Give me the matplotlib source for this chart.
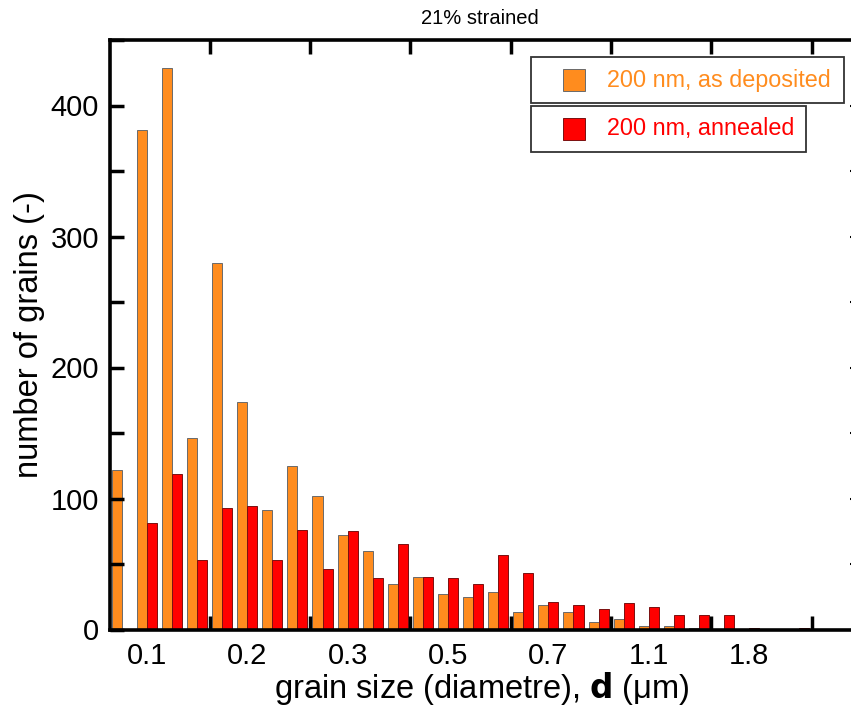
import numpy as np
import matplotlib
matplotlib.use("Agg")
import matplotlib.pyplot as plt
from matplotlib.patches import Rectangle

plt.rcParams['font.family'] = ['Liberation Sans', 'DejaVu Sans']

# ---- data ----
tick_labels = ["0.1", "0.2", "0.3", "0.5", "0.7", "1.1", "1.8"]
as_deposited = [122, 381, 429, 146, 280, 174, 91, 125, 102, 72, 60, 35, 40, 27,
                25, 29, 13, 19, 13, 6, 8, 3, 3, 1, 0, 0, 0, 0]
annealed = [0, 81, 119, 53, 93, 94, 53, 76, 46, 75, 39, 65, 40, 39,
            35, 57, 43, 21, 19, 16, 20, 17, 11, 11, 11, 1, 0, 1]
series_names = ["200 nm, as deposited", "200 nm, annealed"]
title = "21% strained"

ORANGE = "#FF8C1E"
RED = "#FF0000"

W, H = 851, 711
fig = plt.figure(figsize=(W / 100, H / 100), dpi=100)

def fx(x):
    return x / W

def fy(y):
    return 1 - y / H

left, right, top, bottom = 110, 853, 40, 629.5
ax = fig.add_axes([fx(left), fy(bottom), fx(right - left), (bottom - top) / H])

x = np.arange(len(as_deposited))
ax.bar(x - 0.2, as_deposited, width=0.4, color=ORANGE, edgecolor="#6a6a6a", linewidth=0.7)
ax.bar(x + 0.2, annealed, width=0.4, color=RED, edgecolor="#7a1010", linewidth=0.7)

ax.set_xlim(-0.47, 29.14)
ax.set_ylim(0, 449)

# x ticks: labels at group centres, tick marks at boundaries
label_pos = np.arange(1, 1 + 4 * len(tick_labels), 4)
ax.set_xticks(label_pos)
ax.set_xticklabels(tick_labels)
ax.set_xticks(np.arange(3.5, 29, 4), minor=True)
ax.tick_params(axis='x', which='major', length=0, pad=9, labelsize=21)
ax.tick_params(axis='x', which='minor', direction='in', length=10, width=2.5,
               top=True, bottom=True)

ax.set_yticks(np.arange(0, 401, 100))
ax.set_yticks(np.arange(50, 451, 100), minor=True)
ax.tick_params(axis='y', which='both', direction='in', length=10, width=2.5,
               left=True, labelsize=21, pad=8)
# faint right-side tick stubs at the image edge
ax.tick_params(axis='y', which='both', right=True, labelright=False)
for t in ax.yaxis.get_major_ticks() + ax.yaxis.get_minor_ticks():
    t.tick2line.set_markersize(2.5)
    t.tick2line.set_markeredgewidth(1.5)
    t.tick2line.set_color('#888888')

for s in ['left', 'bottom', 'top']:
    ax.spines[s].set_linewidth(2.6)
ax.spines['right'].set_visible(False)

ax.set_xlabel("grain size (diametre), $\\mathbf{d}$ (\u03bcm)", fontsize=23.5, labelpad=0)
ax.set_ylabel("number of grains (-)", fontsize=23.5, labelpad=4)
fig.text(fx(480), fy(18), title, ha='center', va='center', fontsize=14.5)

# legend boxes
def box(x0, y0, x1, y1):
    fig.add_artist(Rectangle((fx(x0), fy(y1)), fx(x1 - x0), (y1 - y0) / H,
                             transform=fig.transFigure, facecolor='white',
                             edgecolor='#333333', linewidth=1.3))

box(531, 57, 844, 103)
box(531, 106, 806, 152)
fig.add_artist(Rectangle((fx(563), fy(91)), fx(22), 22 / H, transform=fig.transFigure,
                         facecolor=ORANGE, edgecolor="#6a6a6a", linewidth=0.7))
fig.add_artist(Rectangle((fx(563), fy(140)), fx(22), 22 / H, transform=fig.transFigure,
                         facecolor=RED, edgecolor="#7a1010", linewidth=0.7))
fig.text(fx(607), fy(80), series_names[0], ha='left', va='center', fontsize=16.8, color=ORANGE)
fig.text(fx(607), fy(129), series_names[1], ha='left', va='center', fontsize=16.8, color=RED)

fig.savefig("out.png", dpi=100)
